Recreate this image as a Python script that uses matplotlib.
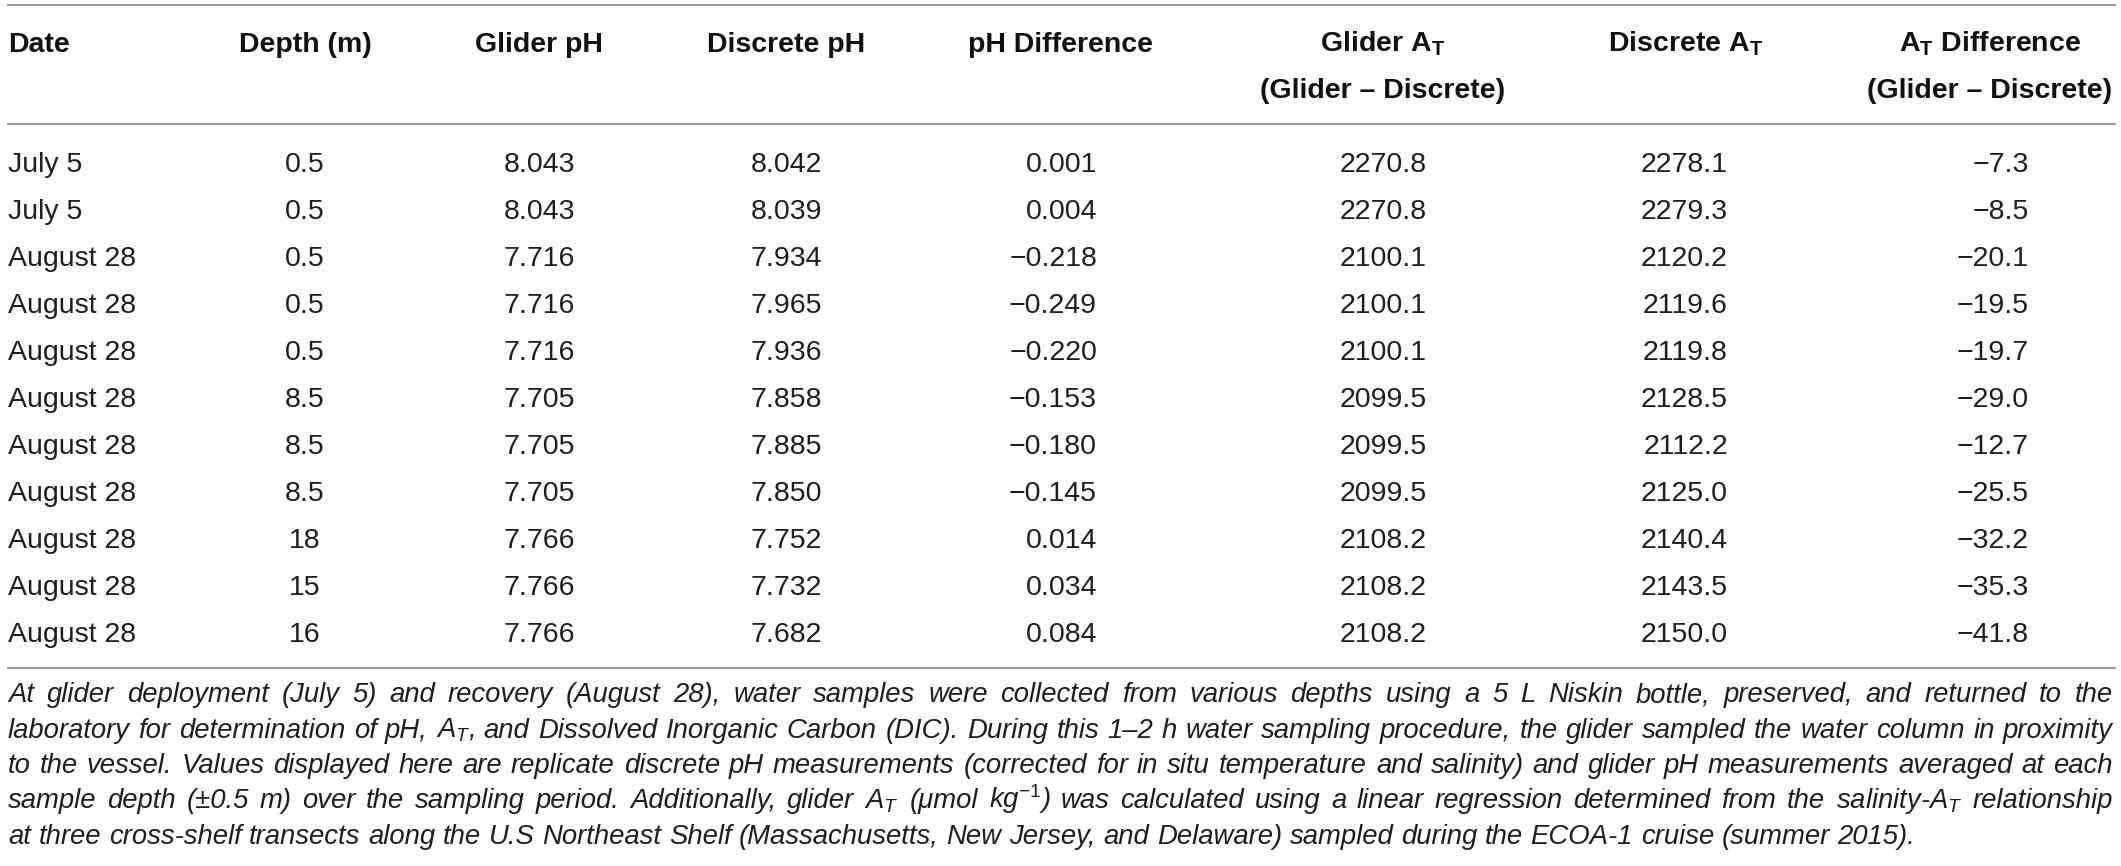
"""
Glider vs discrete pH / total alkalinity comparison table.
"""

import matplotlib.pyplot as plt


plt.rcParams["font.family"] = ["Liberation Sans", "DejaVu Sans"]
plt.rcParams["mathtext.fontset"] = "custom"
plt.rcParams["mathtext.rm"] = "Liberation Sans"
plt.rcParams["mathtext.it"] = "Liberation Sans:italic"
plt.rcParams["mathtext.bf"] = "Liberation Sans:bold"


# table data
dates = ["July 5", "July 5"] + ["August 28"] * 9

depths = ["0.5", "0.5", "0.5", "0.5", "0.5", "8.5", "8.5", "8.5", "18", "15", "16"]

glider_ph = [8.043, 8.043, 7.716, 7.716, 7.716, 7.705, 7.705, 7.705,
             7.766, 7.766, 7.766]

discrete_ph = [8.042, 8.039, 7.934, 7.965, 7.936, 7.858, 7.885, 7.850,
               7.752, 7.732, 7.682]

ph_diff = [0.001, 0.004, -0.218, -0.249, -0.220, -0.153, -0.180, -0.145,
           0.014, 0.034, 0.084]

glider_at = [2270.8, 2270.8, 2100.1, 2100.1, 2100.1, 2099.5, 2099.5, 2099.5,
             2108.2, 2108.2, 2108.2]

discrete_at = [2278.1, 2279.3, 2120.2, 2119.6, 2119.8, 2128.5, 2112.2, 2125.0,
               2140.4, 2143.5, 2150.0]

at_diff = [-7.3, -8.5, -20.1, -19.5, -19.7, -29.0, -12.7, -25.5,
           -32.2, -35.3, -41.8]

headers_top = ["Date", "Depth (m)", "Glider pH", "Discrete pH", "pH Difference",
               r"Glider $\mathbf{A}_\mathbf{T}$", r"Discrete $\mathbf{A}_\mathbf{T}$",
               r"$\mathbf{A}_\mathbf{T}$ Difference"]

headers_bottom = ["", "", "", "", "", "(Glider \u2013 Discrete)", "",
                  "(Glider \u2013 Discrete)"]

footnote_lines = [
    "At glider deployment (July 5) and recovery (August 28), water samples were "
    "collected from various depths using a 5 L Niskin bottle, preserved, and returned to the",
    "laboratory for determination of pH, $A_T$, and Dissolved Inorganic Carbon (DIC). "
    "During this 1\u20132 h water sampling procedure, the glider sampled the water column in proximity",
    "to the vessel. Values displayed here are replicate discrete pH measurements "
    "(corrected for in situ temperature and salinity) and glider pH measurements averaged at each",
    "sample depth (\u00b10.5 m) over the sampling period. Additionally, glider $A_T$ "
    "(\u03bcmol kg$^{-1}$) was calculated using a linear regression determined from the salinity-$A_T$ relationship",
    "at three cross-shelf transects along the U.S Northeast Shelf (Massachusetts, "
    "New Jersey, and Delaware) sampled during the ECOA-1 cruise (summer 2015).",
]


def fmt(value, digits):
    """
    Number with a proper minus sign.
    """

    text = f"{value:.{digits}f}"

    return text.replace("-", "\u2212")


# layout (pixels)
W, H = 2121, 866
LEFT, RIGHT = 8, 2115
TEXT_COLOR = "#1e1e1e"
RULE_COLOR = "#9a9a9a"
SIZE = 20.5
NOTE_SIZE = 19.8

header_x = [LEFT, 305, 539, 786, 1061, 1383, 1686, 1990]

columns = [
    (dates, None, LEFT, "left"),
    (depths, None, 305, "center"),
    (glider_ph, 3, 575, "right"),
    (discrete_ph, 3, 822, "right"),
    (ph_diff, 3, 1097, "right"),
    (glider_at, 1, 1427, "right"),
    (discrete_at, 1, 1728, "right"),
    (at_diff, 1, 2029, "right"),
]

fig = plt.figure(figsize=(W / 100, H / 100), dpi=100)

ax = fig.add_axes([0, 0, 1, 1])
ax.set_xlim(0, W)
ax.set_ylim(H, 0)
ax.axis("off")

# rules
for y in [5, 124, 668]:
    ax.plot([LEFT, RIGHT], [y, y], color=RULE_COLOR, linewidth=1.5)

# header
for i, x in enumerate(header_x):

    ha = "left" if i == 0 else "center"

    ax.text(x, 52, headers_top[i], ha=ha, va="baseline",
            fontsize=SIZE, fontweight="bold", color="#111111")

    if headers_bottom[i]:
        ax.text(x, 98, headers_bottom[i], ha=ha, va="baseline",
                fontsize=SIZE, fontweight="bold", color="#111111")

# body
for values, digits, x, ha in columns:

    for row, value in enumerate(values):

        label = value if digits is None else fmt(value, digits)

        ax.text(x, 172 + 47 * row, label, ha=ha, va="baseline",
                fontsize=SIZE, color=TEXT_COLOR)

# footnote, justified to the table width
renderer = fig.canvas.get_renderer()
space = NOTE_SIZE * 0.278 * 100 / 72

for n, line in enumerate(footnote_lines):

    y = 702 + 35.5 * n
    words = line.split(" ")

    texts = [
        ax.text(0, y, word, ha="left", va="baseline", fontsize=NOTE_SIZE,
                style="italic", color=TEXT_COLOR)
        for word in words
    ]

    widths = [t.get_window_extent(renderer).width for t in texts]

    if n < len(footnote_lines) - 1:
        gap = (RIGHT - 2 - LEFT - sum(widths)) / (len(words) - 1)
        gap = max(gap, 0.6 * space)
    else:
        gap = space

    x = LEFT
    for t, w in zip(texts, widths):
        t.set_x(x)
        x += w + gap

fig.savefig("out.png", dpi=100)
